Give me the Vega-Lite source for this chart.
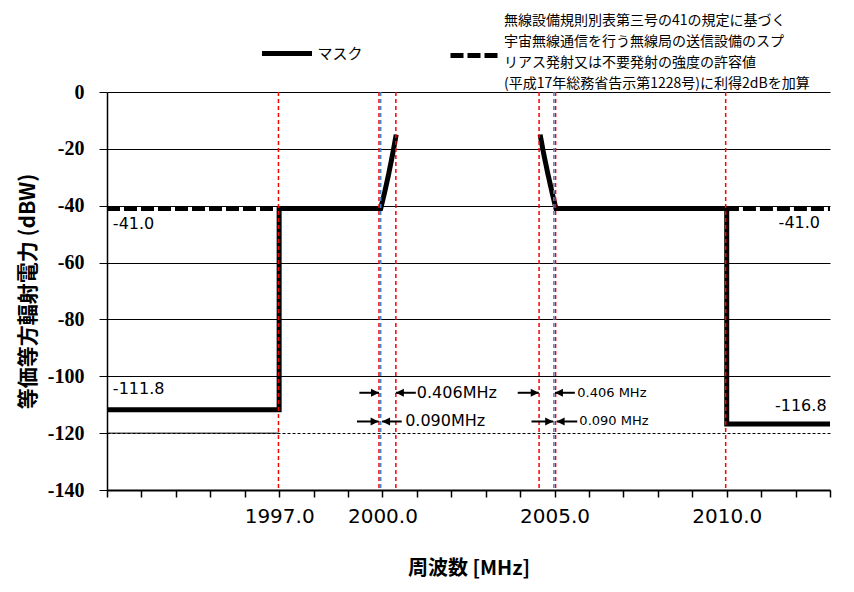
{
  "$schema": "https://vega.github.io/schema/vega-lite/v6.json",
  "width": 723,
  "height": 398,
  "autosize": {"type": "none"},
  "padding": {"left": 107, "top": 92, "right": 24, "bottom": 102},
  "background": "white",
  "config": {
    "view": {"stroke": null},
    "font": "DejaVu Sans",
    "style": {"guide-label": {"lineHeight": 21}}
  },
  "resolve": {"scale": {"strokeDash": "independent"}, "legend": {"strokeDash": "independent"}},
  "datasets": {
    "curves": [
      {"series": "マスク", "seg": "m1", "i": 0, "f": 1992, "v": -111.8},
      {"series": "マスク", "seg": "m1", "i": 1, "f": 1997, "v": -111.8},
      {"series": "マスク", "seg": "m1", "i": 2, "f": 1997, "v": -41},
      {"series": "マスク", "seg": "m1", "i": 3, "f": 1999.95, "v": -41},
      {"series": "マスク", "seg": "m1", "i": 4, "f": 2000.06, "v": -35.5},
      {"series": "マスク", "seg": "m1", "i": 5, "f": 2000.17, "v": -29.5},
      {"series": "マスク", "seg": "m1", "i": 6, "f": 2000.27, "v": -23.5},
      {"series": "マスク", "seg": "m1", "i": 7, "f": 2000.34, "v": -19},
      {"series": "マスク", "seg": "m1", "i": 8, "f": 2000.4, "v": -15},
      {"series": "マスク", "seg": "m2", "i": 0, "f": 2004.58, "v": -15},
      {"series": "マスク", "seg": "m2", "i": 1, "f": 2004.68, "v": -21.5},
      {"series": "マスク", "seg": "m2", "i": 2, "f": 2004.8, "v": -28.5},
      {"series": "マスク", "seg": "m2", "i": 3, "f": 2004.93, "v": -35.5},
      {"series": "マスク", "seg": "m2", "i": 4, "f": 2005.04, "v": -41},
      {"series": "マスク", "seg": "m2", "i": 5, "f": 2010, "v": -41},
      {"series": "マスク", "seg": "m2", "i": 6, "f": 2010, "v": -116.8},
      {"series": "マスク", "seg": "m2", "i": 7, "f": 2013, "v": -116.8},
      {"series": "無線設備規則別表第三号の41の規定に基づく\n宇宙無線通信を行う無線局の送信設備のスプ\nリアス発射又は不要発射の強度の許容値\n(平成17年総務省告示第1228号)に利得2dBを加算", "seg": "s1", "i": 0, "f": 1992, "v": -41},
      {"series": "無線設備規則別表第三号の41の規定に基づく\n宇宙無線通信を行う無線局の送信設備のスプ\nリアス発射又は不要発射の強度の許容値\n(平成17年総務省告示第1228号)に利得2dBを加算", "seg": "s1", "i": 1, "f": 1999.95, "v": -41},
      {"series": "無線設備規則別表第三号の41の規定に基づく\n宇宙無線通信を行う無線局の送信設備のスプ\nリアス発射又は不要発射の強度の許容値\n(平成17年総務省告示第1228号)に利得2dBを加算", "seg": "s2", "i": 0, "f": 2005.04, "v": -41},
      {"series": "無線設備規則別表第三号の41の規定に基づく\n宇宙無線通信を行う無線局の送信設備のスプ\nリアス発射又は不要発射の強度の許容値\n(平成17年総務省告示第1228号)に利得2dBを加算", "seg": "s2", "i": 1, "f": 2013, "v": -41}
    ],
    "refs": [
      {"f": 1996.98, "c": "red"},
      {"f": 1999.9, "c": "red"},
      {"f": 1999.95, "c": "blue"},
      {"f": 2000.39, "c": "red"},
      {"f": 2004.55, "c": "red"},
      {"f": 2004.98, "c": "blue"},
      {"f": 2005.03, "c": "red"},
      {"f": 2009.97, "c": "red"}
    ],
    "arrows": [
      {"f": 1999.33, "f2": 1999.9, "v": -105.8, "dir": "right"},
      {"f": 2000.97, "f2": 2000.39, "v": -105.8, "dir": "left"},
      {"f": 1999.26, "f2": 1999.89, "v": -115.9, "dir": "right"},
      {"f": 2000.56, "f2": 1999.99, "v": -115.9, "dir": "left"},
      {"f": 2003.93, "f2": 2004.54, "v": -105.8, "dir": "right"},
      {"f": 2005.59, "f2": 2005.01, "v": -105.8, "dir": "left"},
      {"f": 2004.33, "f2": 2004.96, "v": -115.9, "dir": "right"},
      {"f": 2005.66, "f2": 2005.06, "v": -115.9, "dir": "left"}
    ],
    "labels": [
      {"t": "-41.0", "f": 1992.17, "v": -46.4, "g": "L16"},
      {"t": "-111.8", "f": 1992.17, "v": -104.5, "g": "L16"},
      {"t": "-41.0", "f": 2012.71, "v": -46.2, "g": "R16"},
      {"t": "-116.8", "f": 2012.9, "v": -110.4, "g": "R16"},
      {"t": "0.406MHz", "f": 2001.0, "v": -105.8, "g": "L16"},
      {"t": "0.090MHz", "f": 2000.66, "v": -115.9, "g": "L16"},
      {"t": "0.406 MHz", "f": 2005.66, "v": -105.8, "g": "L13"},
      {"t": "0.090 MHz", "f": 2005.72, "v": -115.9, "g": "L13"}
    ]
  },
  "layer": [
    {
      "data": {"name": "curves"},
      "transform": [{"filter": "datum.series !== 'マスク'"}],
      "mark": {"type": "line", "strokeWidth": 5, "color": "black", "strokeCap": "butt", "strokeJoin": "miter"},
      "encoding": {
        "x": {"field": "f", "type": "quantitative"},
        "y": {"field": "v", "type": "quantitative"},
        "detail": {"field": "seg"},
        "order": {"field": "i", "type": "quantitative"},
        "strokeDash": {
          "field": "series", "type": "nominal",
          "scale": {
            "domain": ["無線設備規則別表第三号の41の規定に基づく\n宇宙無線通信を行う無線局の送信設備のスプ\nリアス発射又は不要発射の強度の許容値\n(平成17年総務省告示第1228号)に利得2dBを加算"],
            "range": [[13, 4]]
          },
          "legend": {
            "title": null, "orient": "none", "legendX": 341, "legendY": -64,
            "padding": 0,
            "symbolType": "stroke", "symbolSize": 2500, "symbolStrokeWidth": 5, "symbolStrokeColor": "black",
            "labelFont": "Noto Sans CJK JP", "labelFontSize": 14, "labelColor": "black", "labelLimit": 600, "labelOffset": 1,
            "labelExpr": "split(datum.label, '\\n')",
            "encoding": {"labels": {"dy": {"value": -35}}}
          }
        }
      }
    },
    {
      "data": {"name": "curves"},
      "transform": [{"filter": "datum.series === 'マスク'"}],
      "mark": {"type": "line", "strokeWidth": 5, "color": "black", "strokeCap": "butt", "strokeJoin": "miter"},
      "encoding": {
        "x": {
          "field": "f", "type": "quantitative",
          "scale": {"domain": [1992, 2013], "nice": false, "zero": false},
          "axis": {
            "title": "周波数 [MHz]",
            "titleFont": "Noto Sans CJK JP", "titleFontSize": 20, "titleFontWeight": "bold", "titleColor": "black", "titlePadding": 32,
            "values": [1992, 1993, 1994, 1995, 1996, 1997, 1998, 1999, 2000, 2001, 2002, 2003, 2004, 2005, 2006, 2007, 2008, 2009, 2010, 2011, 2012, 2013],
            "tickCount": 40,
            "labelExpr": "indexof([1997, 2000, 2005, 2010], datum.value) >= 0 ? format(datum.value, '.1f') : ''",
            "labelOverlap": false, "labelFont": "DejaVu Sans", "labelFontSize": 20, "labelColor": "black", "labelPadding": 9,
            "tickSize": 7, "tickWidth": 1.5, "tickColor": "black",
            "domainColor": "black", "domainWidth": 2, "grid": false
          }
        },
        "y": {
          "field": "v", "type": "quantitative",
          "scale": {"domain": [-140, 0], "nice": false, "zero": false},
          "axis": {
            "title": "等価等方輻射電力 (dBW)",
            "titleFont": "Noto Sans CJK JP", "titleFontSize": 21, "titleFontWeight": "bold", "titleColor": "black", "titlePadding": 9,
            "values": [-140, -120, -100, -80, -60, -40, -20, 0],
            "labelExpr": "'' + datum.value",
            "labelFont": "Liberation Serif", "labelFontWeight": "bold", "labelFontSize": 20, "labelColor": "black", "labelPadding": 15,
            "tickSize": 8, "tickWidth": 1, "tickColor": "black",
            "domainColor": "black", "domainWidth": 1.5,
            "grid": true, "gridColor": "black", "gridWidth": 1,
            "gridDash": {"condition": {"test": "datum.value === -120", "value": [3, 2]}, "value": []}
          }
        },
        "detail": {"field": "seg"},
        "order": {"field": "i", "type": "quantitative"},
        "strokeDash": {
          "field": "series", "type": "nominal",
          "scale": {"domain": ["マスク"], "range": [[1, 0]]},
          "legend": {
            "title": null, "orient": "none", "legendX": 152.5, "legendY": -66,
            "padding": 0,
            "symbolType": "stroke", "symbolSize": 2500, "symbolStrokeWidth": 5, "symbolStrokeColor": "black",
            "labelFont": "Noto Sans CJK JP", "labelFontSize": 15, "labelColor": "black", "labelLimit": 600, "labelOffset": 3
          }
        }
      }
    },
    {
      "data": {"values": [{"f": 1992, "f2": 1997, "v": -120}]},
      "mark": {"type": "rule", "strokeWidth": 1, "color": "black"},
      "encoding": {
        "x": {"field": "f", "type": "quantitative"},
        "x2": {"field": "f2"},
        "y": {"field": "v", "type": "quantitative"}
      }
    },
    {
      "data": {"name": "refs"},
      "mark": {"type": "rule", "strokeWidth": 1.5, "strokeDash": [4, 3]},
      "encoding": {
        "x": {"field": "f", "type": "quantitative"},
        "color": {"field": "c", "type": "nominal", "scale": {"domain": ["red", "blue"], "range": ["#ff0000", "#3d8ad6"]}, "legend": null}
      }
    },
    {
      "data": {"name": "arrows"},
      "mark": {"type": "rule", "strokeWidth": 2, "color": "black"},
      "encoding": {
        "x": {"field": "f", "type": "quantitative"},
        "x2": {"field": "f2"},
        "y": {"field": "v", "type": "quantitative"}
      }
    },
    {
      "data": {"name": "arrows"},
      "mark": {"type": "point", "filled": true, "color": "black", "size": 64, "opacity": 1},
      "encoding": {
        "x": {"field": "f2", "type": "quantitative"},
        "y": {"field": "v", "type": "quantitative"},
        "shape": {"field": "dir", "type": "nominal", "scale": {"domain": ["right", "left"], "range": ["M0,0L-2,-1L-2,1Z", "M0,0L2,-1L2,1Z"]}, "legend": null}
      }
    },
    {
      "data": {"name": "labels"},
      "transform": [{"filter": "datum.g === 'L16'"}],
      "mark": {"type": "text", "align": "left", "baseline": "middle", "fontSize": 16, "font": "DejaVu Sans", "color": "black"},
      "encoding": {
        "x": {"field": "f", "type": "quantitative"},
        "y": {"field": "v", "type": "quantitative"},
        "text": {"field": "t"}
      }
    },
    {
      "data": {"name": "labels"},
      "transform": [{"filter": "datum.g === 'R16'"}],
      "mark": {"type": "text", "align": "right", "baseline": "middle", "fontSize": 16, "font": "DejaVu Sans", "color": "black"},
      "encoding": {
        "x": {"field": "f", "type": "quantitative"},
        "y": {"field": "v", "type": "quantitative"},
        "text": {"field": "t"}
      }
    },
    {
      "data": {"name": "labels"},
      "transform": [{"filter": "datum.g === 'L13'"}],
      "mark": {"type": "text", "align": "left", "baseline": "middle", "fontSize": 13, "font": "DejaVu Sans", "color": "black"},
      "encoding": {
        "x": {"field": "f", "type": "quantitative"},
        "y": {"field": "v", "type": "quantitative"},
        "text": {"field": "t"}
      }
    }
  ]
}
